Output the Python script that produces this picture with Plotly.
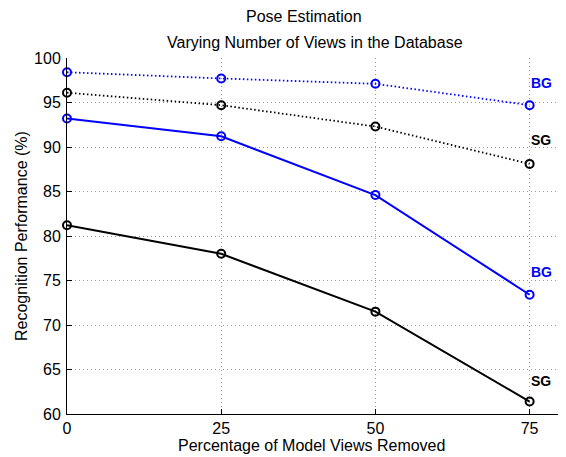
import plotly.graph_objects as go

# ---- data ----
views_removed = [0, 25, 50, 75]
bg_dotted = [98.4, 97.7, 97.1, 94.7]
sg_dotted = [96.1, 94.7, 92.3, 88.1]
bg_solid = [93.2, 91.2, 84.6, 73.4]
sg_solid = [81.2, 78.0, 71.5, 61.4]

label_texts = ["BG", "SG", "BG", "SG"]
label_x = [75, 75, 75, 75]
label_y = [97.2, 90.8, 76.0, 63.7]
label_colors = ["#0000ff", "#000000", "#0000ff", "#000000"]

x_ticks = [0, 25, 50, 75]
y_ticks = [60, 65, 70, 75, 80, 85, 90, 95, 100]

# page body has an 8px default margin, so the figure is offset by 8px
OFF = 8
W, H = 566 - OFF, 457 - OFF
ML, MR, MT, MB = 67 - OFF, 0, 58 - OFF, 43
FONT = "Liberation Sans, Arial, Helvetica, sans-serif"

fig = go.Figure()

def add_series(y, color, dash, width):
    fig.add_trace(go.Scatter(
        x=views_removed, y=y, mode="lines+markers",
        line=dict(color=color, width=width, dash=dash),
        marker=dict(symbol="circle-open", size=8, color=color,
                    line=dict(color=color, width=2)),
        cliponaxis=False, showlegend=False, hoverinfo="skip"))

add_series(bg_dotted, "#0000ff", "1.5px,2.5px", 1.8)
add_series(sg_dotted, "#000000", "1.5px,2.5px", 1.8)
add_series(bg_solid, "#0000ff", "solid", 2)
add_series(sg_solid, "#000000", "solid", 2)

annotations = []
for t, x, y, c in zip(label_texts, label_x, label_y, label_colors):
    annotations.append(dict(x=x, y=y, xref="x", yref="y", text="<b>%s</b>" % t,
                            showarrow=False, xanchor="left", yanchor="middle",
                            xshift=-1,
                            font=dict(family=FONT, size=14, color=c)))

pw = W - ML - MR
ph = H - MT - MB

def px_x(p):
    return (p - OFF - ML) / pw

def px_y(p):
    return (H - MB - (p - OFF)) / ph

annotations += [
    dict(x=px_x(304), y=px_y(16), xref="paper", yref="paper", text="Pose Estimation",
         showarrow=False, xanchor="center", yanchor="middle",
         font=dict(family=FONT, size=16, color="#000")),
    dict(x=px_x(315), y=px_y(42.5), xref="paper", yref="paper",
         text="Varying Number of Views in the Database",
         showarrow=False, xanchor="center", yanchor="middle",
         font=dict(family=FONT, size=16, color="#000")),
    dict(x=px_x(311), y=px_y(445), xref="paper", yref="paper",
         text="Percentage of Model Views Removed",
         showarrow=False, xanchor="center", yanchor="middle",
         font=dict(family=FONT, size=16, color="#000")),
    dict(x=px_x(21), y=px_y(236), xref="paper", yref="paper",
         text="Recognition Performance (%)", textangle=-90,
         showarrow=False, xanchor="center", yanchor="middle",
         font=dict(family=FONT, size=16, color="#000")),
]

GRID = dict(showgrid=True, gridcolor="#9a9a9a", griddash="1px,3px", gridwidth=1,
            showline=True, linecolor="#000", linewidth=1,
            ticks="inside", ticklen=5, tickcolor="#000",
            zeroline=False, tickfont=dict(size=16, family=FONT))

fig.update_layout(
    width=W, height=H,
    margin=dict(l=ML, r=MR, t=MT, b=MB, pad=0),
    paper_bgcolor="white", plot_bgcolor="white",
    font=dict(family=FONT, size=16, color="#000"),
    annotations=annotations,
    xaxis=dict(range=[0, 80.9], tickvals=x_ticks, ticktext=[str(v) for v in x_ticks],
               ticklabelstandoff=0, **GRID),
    yaxis=dict(range=[60, 100], tickvals=y_ticks, ticktext=[str(v) for v in y_ticks],
               ticklabelstandoff=2, **GRID),
)

fig.write_html("out.html")
